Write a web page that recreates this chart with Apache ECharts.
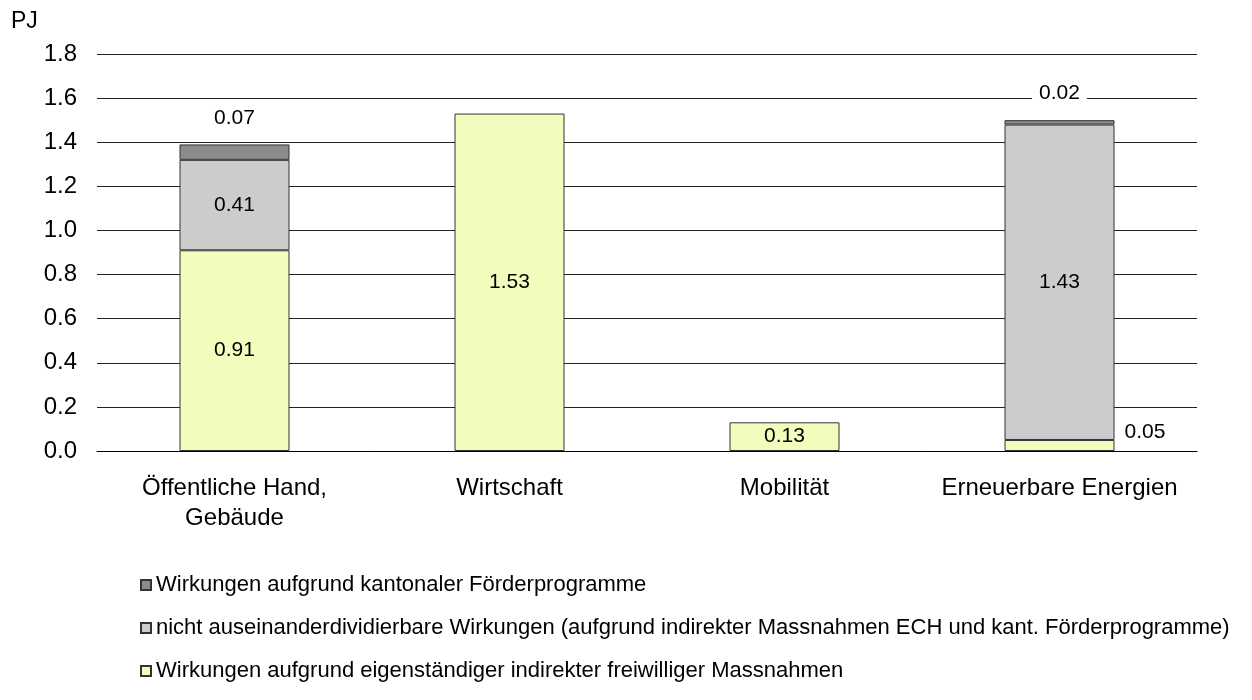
<!DOCTYPE html>
<html>
<head>
<meta charset="utf-8">
<script src="https://cdn.jsdelivr.net/npm/echarts@6/dist/echarts.min.js"></script>
<style>
    html, body { margin: 0; padding: 0; background: #fff; }
    #chart { width: 1252px; height: 700px; }
</style>
</head>
<body>
<div id="chart"></div>
<script>
    // Daten
    var categories = ['Öffentliche Hand,\nGebäude', 'Wirtschaft', 'Mobilität', 'Erneuerbare Energien']
    var kantonal = [0.07, null, null, 0.02]
    var nichtTrennbar = [0.41, null, null, 1.43]
    var eigenstaendig = [0.91, 1.53, 0.13, 0.05]
    var yTicks = [0, 0.2, 0.4, 0.6, 0.8, 1.0, 1.2, 1.4, 1.6, 1.8]

    var names = [
        'Wirkungen aufgrund kantonaler Förderprogramme',
        'nicht auseinanderdividierbare Wirkungen (aufgrund indirekter Massnahmen ECH und kant. Förderprogramme)',
        'Wirkungen aufgrund eigenständiger indirekter freiwilliger Massnahmen'
    ]

    var font = 'Liberation Sans, Arial, sans-serif'
    var labelBase = { show: true, color: '#000', fontSize: 21, fontFamily: font, formatter: function (p) { return p.value.toFixed(2) } }

    var chart = echarts.init(document.getElementById('chart'))

    // Beschriftungen je Wert
    var yellowData = eigenstaendig.map(function (v, i) {
        if (i === 3) return { value: v, label: { position: 'right', distance: 10, offset: [0, -13] } }
        return v
    })

    var option = {
        animation: false,
        title: {
            text: 'PJ',
            left: 11,
            top: 10,
            padding: 0,
            textStyle: { fontSize: 23, fontWeight: 'normal', color: '#000', fontFamily: font }
        },
        legend: {
            orient: 'vertical',
            left: 140,
            top: 574,
            padding: 0,
            itemGap: 21,
            itemWidth: 10,
            itemHeight: 10,
            icon: 'rect',
            data: names,
            textStyle: { fontSize: 22, color: '#000', fontFamily: font, lineHeight: 22 }
        },
        grid: { left: 97, right: 55, top: 54, bottom: 249 },
        xAxis: {
            type: 'category',
            data: categories,
            axisLine: { lineStyle: { color: '#000', width: 1 } },
            axisTick: { length: 8, lineStyle: { color: '#000' } },
            axisLabel: { color: '#000', fontSize: 24, fontFamily: font, margin: 22, lineHeight: 30, interval: 0 }
        },
        yAxis: {
            type: 'value',
            min: 0,
            max: 1.8,
            interval: 0.2,
            axisLine: { show: false },
            axisTick: { show: false },
            splitLine: { lineStyle: { color: '#222', width: 1 } },
            axisLabel: {
                color: '#000', fontSize: 24, fontFamily: font, margin: 20,
                formatter: function (v) { return v.toFixed(1) }
            }
        },
        series: [{
            name: names[2],
            type: 'bar',
            stack: 'total',
            barWidth: 110,
            data: yellowData,
            itemStyle: { color: '#f3fcbd', borderColor: '#333', borderWidth: 1 },
            label: Object.assign({}, labelBase, { position: 'inside' })
        }, {
            name: names[1],
            type: 'bar',
            stack: 'total',
            barWidth: 110,
            data: nichtTrennbar,
            itemStyle: { color: '#cccccc', borderColor: '#333', borderWidth: 1 },
            label: Object.assign({}, labelBase, { position: 'inside' })
        }, {
            name: names[0],
            type: 'bar',
            stack: 'total',
            barWidth: 110,
            data: kantonal,
            itemStyle: { color: '#8c8c8c', borderColor: '#333', borderWidth: 1 },
            label: Object.assign({}, labelBase, {
                position: 'top',
                distance: 13,
                backgroundColor: '#fff',
                padding: [3, 7, 3, 7]
            })
        }]
    }
    chart.setOption(option)
</script>
</body>
</html>
